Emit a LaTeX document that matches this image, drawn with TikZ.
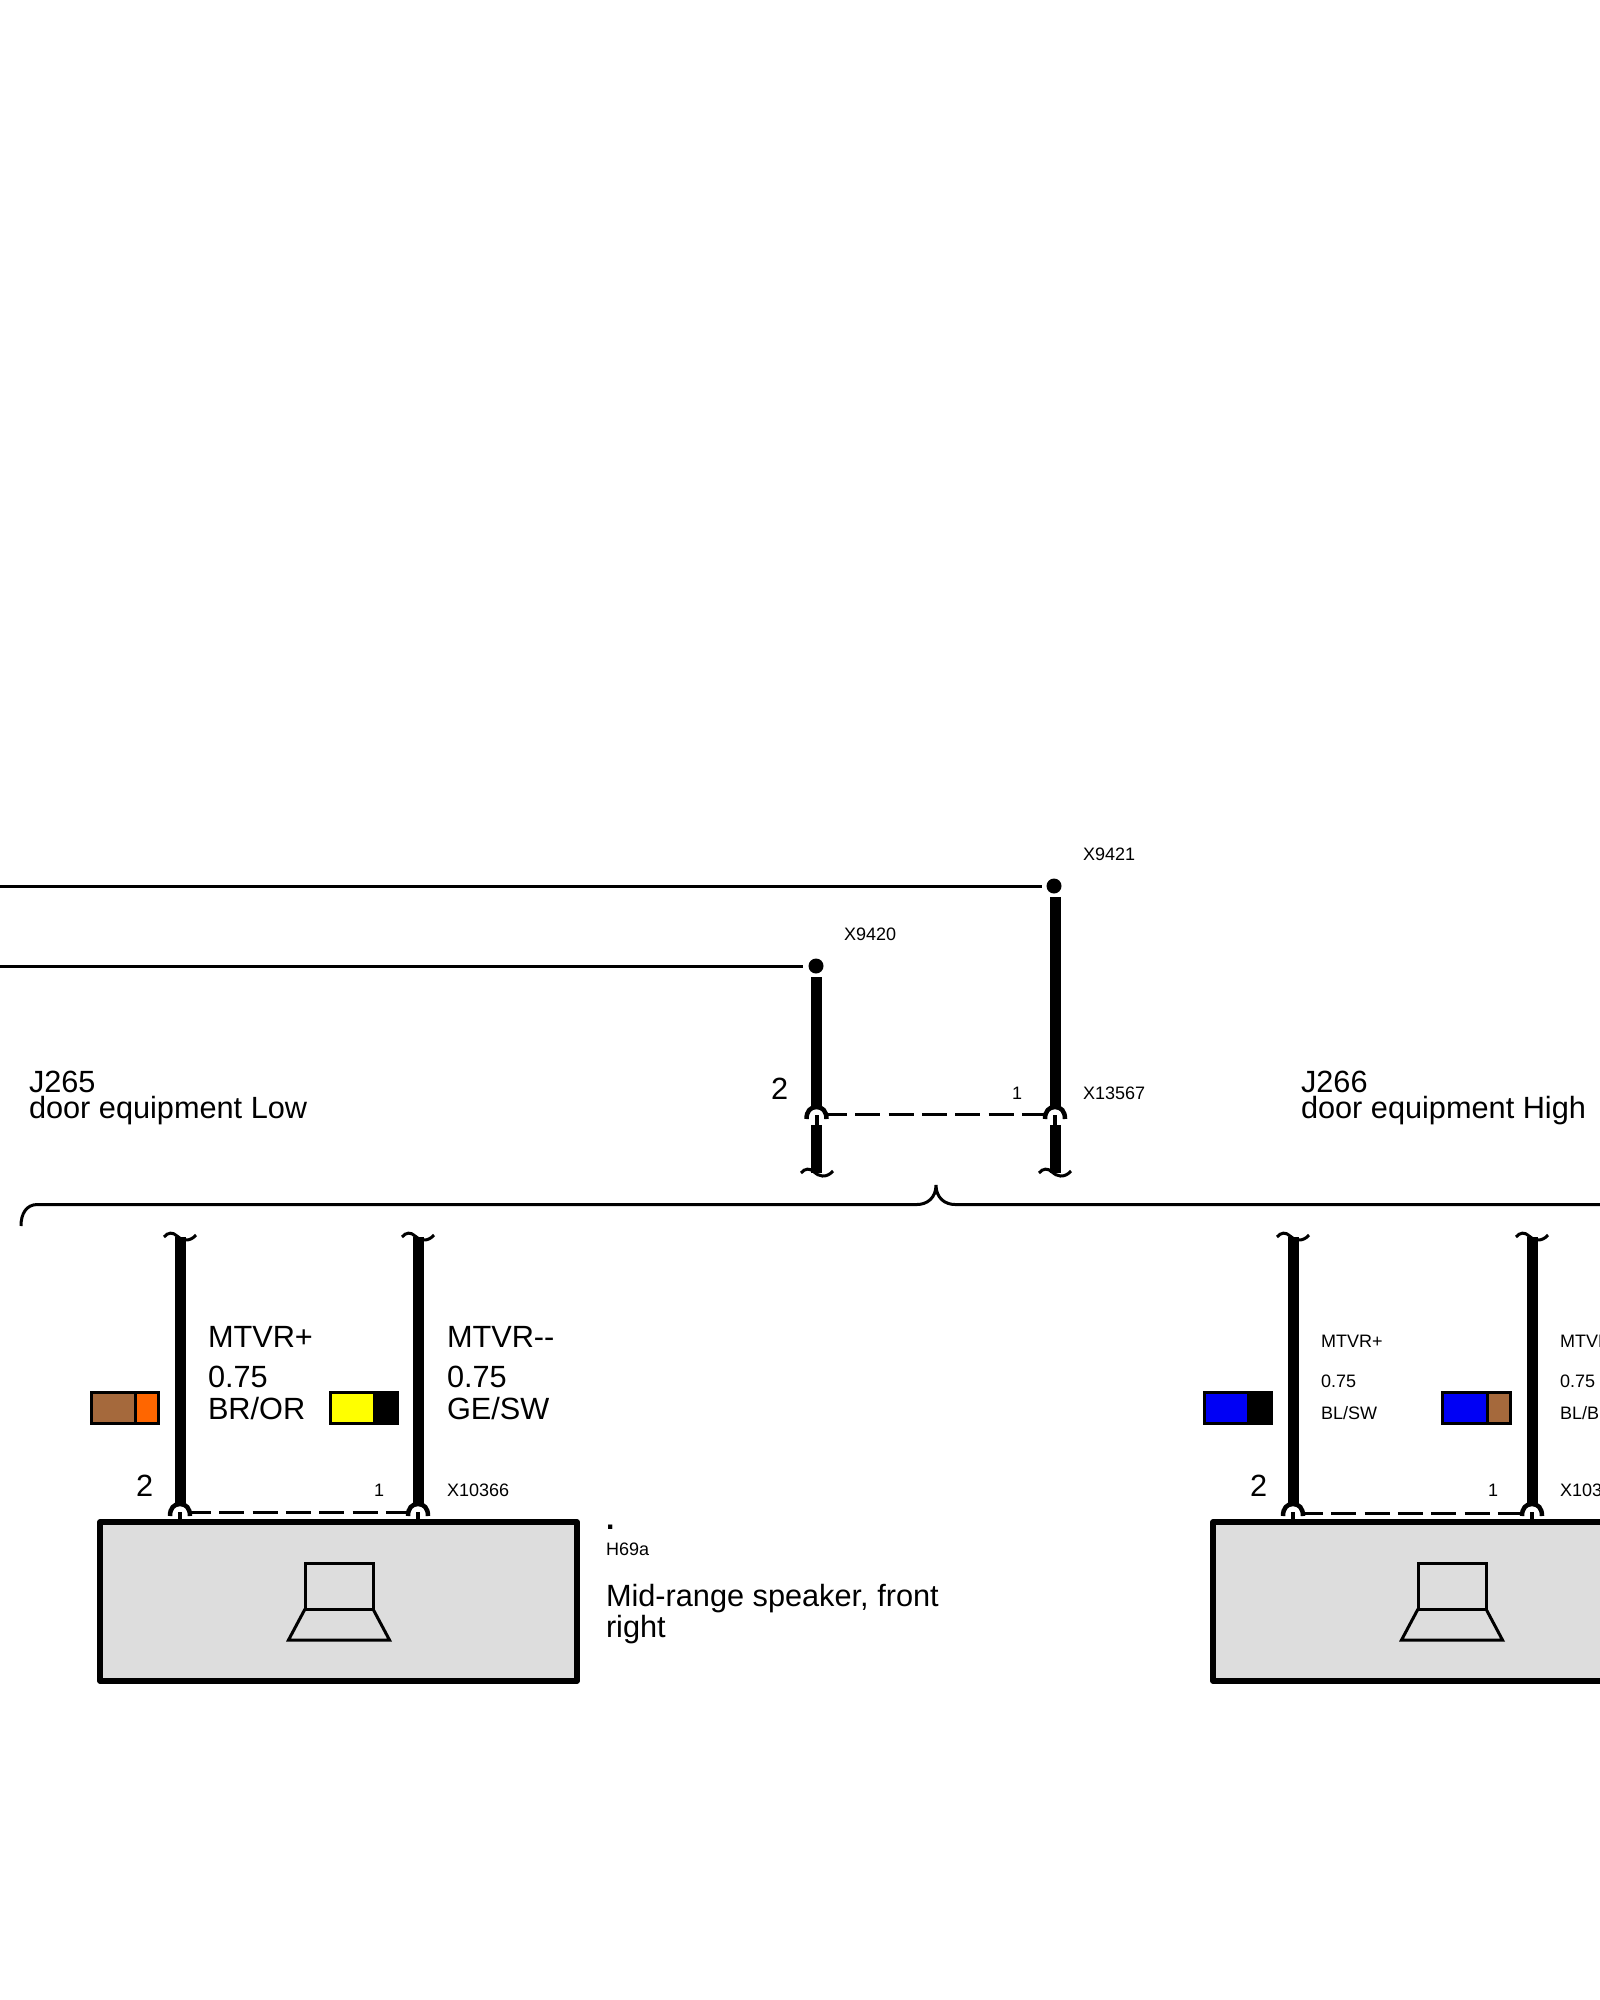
\documentclass[tikz,border=0pt]{standalone}
\usepackage{fontspec}
\setmainfont{Liberation Sans}
\definecolor{brownw}{HTML}{A5693C}
\definecolor{orangew}{HTML}{FF6600}
\definecolor{bluew}{HTML}{0000F5}
\definecolor{yelloww}{HTML}{FFFF00}
\definecolor{boxgrey}{HTML}{DDDDDD}
\tikzset{
  lbl/.style={inner sep=0pt,outer sep=0pt,anchor=base west,text=black},
  big/.style={lbl,font=\fontsize{30.7}{30.7}\selectfont},
  small/.style={lbl,font=\fontsize{18}{18}\selectfont},
  thinwire/.style={draw=black,line width=3.3pt},
  thickwire/.style={draw=black,line width=11pt},
  stub/.style={draw=black,line width=4pt},
  dashwire/.style={draw=black,line width=3pt,dash pattern=on 25pt off 8.3pt,dash phase=5pt},
  dotmark/.style={circle,fill=black,minimum size=15pt,inner sep=0pt,outer sep=0pt},
  swatch/.style={draw=black,line width=3pt},
  devbox/.style={draw=black,fill=boxgrey,line width=5.5pt,line join=round,outer sep=0pt,inner sep=0pt,anchor=north west},
  spk/.style={draw=black,line width=3pt,line join=miter},
  brace/.style={draw=black,line width=3pt},
  squiggle/.pic={\draw[black,line width=3pt] (-16,0) .. controls (-12,-5) and (-7,-5) .. (-3,-1) .. controls (1,3) and (9,6) .. (16,-2);},
  arch/.pic={\draw[black,line width=4.5pt] (-10,4) .. controls (-10,-4) and (-6,-8) .. (0,-8) .. controls (6,-8) and (10,-4) .. (10,4);},
  speaker/.pic={\draw[spk] (-34,0) rectangle (34,46); \draw[spk] (-34,46) -- (-50.5,77) -- (50.5,77) -- (34,46);}
}
\begin{document}
\begin{tikzpicture}[x=1pt,y=-1pt]
\useasboundingbox (0,0) rectangle (1600,2000);
\clip (0,0) rectangle (1600,2000);
\fill[white] (0,0) rectangle (1600,2000);

% upper wires
\coordinate (wl1) at (0,886.5);
\coordinate (wl2) at (0,966.5);
\node[dotmark] (d1) at (1054,886) {};
\node[dotmark] (d2) at (816,966) {};
\coordinate (d1e) at (1042,886.5);
\coordinate (d2e) at (803,966.5);
\draw[thinwire] (wl1) -- (d1e);
\draw[thinwire] (wl2) -- (d2e);

\coordinate (a2t) at (816.5,977); \coordinate (a2b) at (816.5,1107);
\coordinate (a1t) at (1055,897);  \coordinate (a1b) at (1055,1107);
\draw[thickwire] (a2t) -- (a2b);
\draw[thickwire] (a1t) -- (a1b);
\pic at (816.5,1115) {arch};
\pic at (1055,1115) {arch};
\coordinate (a2s) at (816.5,1115); \coordinate (a2m) at (816.5,1125); \coordinate (a2e) at (816.5,1173);
\coordinate (a1s) at (1055,1115);  \coordinate (a1m) at (1055,1125);  \coordinate (a1e) at (1055,1173);
\draw[stub] (a2s) -- (a2m);
\draw[stub] (a1s) -- (a1m);
\draw[thickwire] (a2m) -- (a2e);
\draw[thickwire] (a1m) -- (a1e);
\pic at (817,1173) {squiggle};
\pic at (1055,1173) {squiggle};
\coordinate (da) at (827,1114); \coordinate (db) at (1045,1114);
\draw[dashwire] (da) -- (db);

% brace
\draw[brace] (21,1226) .. controls (21,1214) and (26,1204.5) .. (37.5,1204.5) -- (917,1204.5)
  .. controls (927,1204.5) and (936,1198) .. (936,1185) .. controls (936,1198) and (945,1204.5) .. (955,1204.5) -- (1600,1204.5);

% device boxes
\node[devbox,minimum width=477pt,minimum height=159pt] (boxL) at (100,1522) {};
\node[devbox,minimum width=500pt,minimum height=159pt] (boxR) at (1213,1522) {};
\pic at (339,1563) {speaker};
\pic at (1452,1563) {speaker};

% lower wires
\foreach \nm/\x in {p/180,q/418,r/1293,s/1532}{
  \coordinate (\nm t) at (\x,1237);
  \coordinate (\nm b) at (\x,1503);
  \coordinate (\nm c) at (\x,1512);
  \coordinate (\nm d) at (\x,1521);
  \draw[thickwire] (\nm t) -- (\nm b);
  \draw[stub] (\nm c) -- (\nm d);
  \pic at (\nm c) {arch};
  \pic at (\nm t) {squiggle};
}
\coordinate (pq1) at (191,1512); \coordinate (pq2) at (409,1512);
\coordinate (rs1) at (1303,1513); \coordinate (rs2) at (1521,1513);
\draw[dashwire] (pq1) -- (pq2);
\draw[dashwire] (rs1) -- (rs2);

% swatches
\filldraw[swatch,fill=brownw] (91.5,1392.5) rectangle (135.5,1423);
\filldraw[swatch,fill=orangew] (135.5,1392.5) rectangle (158.5,1423);
\filldraw[swatch,fill=yelloww] (330.5,1392.5) rectangle (374,1423);
\filldraw[swatch,fill=black] (374,1392.5) rectangle (397.5,1423);
\filldraw[swatch,fill=bluew] (1204.5,1392.5) rectangle (1248,1423);
\filldraw[swatch,fill=black] (1248,1392.5) rectangle (1271.5,1423);
\filldraw[swatch,fill=bluew] (1442.5,1392.5) rectangle (1487,1423);
\filldraw[swatch,fill=brownw] (1487,1392.5) rectangle (1510.5,1423);

% labels
\node[small] (x9421) at (1083,860) {X9421};
\node[small] (x9420) at (844,940) {X9420};
\node[big] (n2a) at (771,1099) {2};
\node[small] (n1a) at (1012,1099) {1};
\node[small] (x13567) at (1083,1099) {X13567};
\node[big] (j265) at (29,1092) {J265};
\node[big] (j265b) at (29,1118) {door equipment Low};
\node[big] (j266) at (1301,1092) {J266};
\node[big] (j266b) at (1301,1118) {door equipment High};

\node[big] (mp) at (208,1347) {MTVR+};
\node[big] (m1) at (208,1387.5) {0.75};
\node[big] (c1) at (208,1419) {BR/OR};
\node[big] (mm) at (447,1347) {MTVR{-}{-}};
\node[big] (m2) at (447,1387.5) {0.75};
\node[big] (c2) at (447,1419) {GE/SW};
\node[big] (n2b) at (136,1496) {2};
\node[small] (n1b) at (374,1496) {1};
\node[small] (x10366) at (447,1496) {X10366};
\node[big,font=\fontsize{30}{30}\selectfont\bfseries] (dot) at (606,1529) {.};
\node[small] (h69a) at (606,1555) {H69a};
\node[big] (mr1) at (606,1606) {Mid-range speaker, front};
\node[big] (mr2) at (606,1637) {right};

\node[small] (rmp) at (1321,1347) {MTVR+};
\node[small] (rm1) at (1321,1387) {0.75};
\node[small] (rc1) at (1321,1419) {BL/SW};
\node[small] (rmm) at (1560,1347) {MTVR{-}{-}};
\node[small] (rm2) at (1560,1387) {0.75};
\node[small] (rc2) at (1560,1419) {BL/BR};
\node[big] (n2c) at (1250,1496) {2};
\node[small] (n1c) at (1488,1496) {1};
\node[small] (x10367) at (1560,1496) {X10367};
\end{tikzpicture}
\end{document}
